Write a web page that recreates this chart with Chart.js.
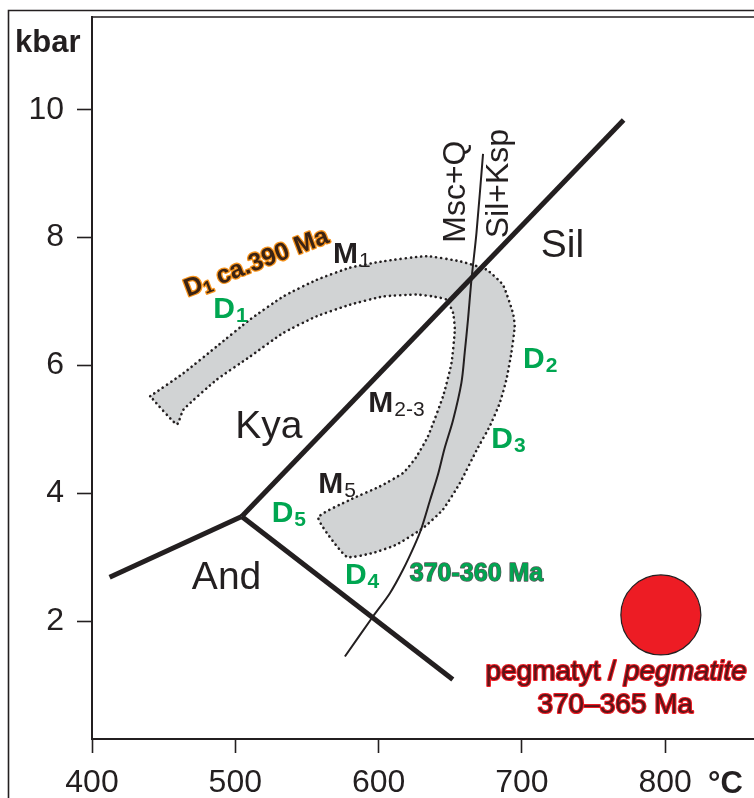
<!DOCTYPE html>
<html>
<head>
<meta charset="utf-8">
<script src="https://cdn.jsdelivr.net/npm/chart.js@4.4.1/dist/chart.umd.min.js"></script>
<style>
  html, body { margin: 0; padding: 0; background: #fff; }
</style>
</head>
<body>
<canvas id="pt" width="754" height="798"></canvas>
<script>
// temperature in °C, pressure in kbar
var xTicks = [400, 500, 600, 700, 800];
var yTicks = [2, 4, 6, 8, 10];

// Al2SiO5 reaction lines
var kyaSil = [[504.5, 3.64], [771, 9.84]];
var kyaAnd = [[412.3, 2.69], [504.5, 3.64]];
var andSil = [[504.5, 3.64], [651.8, 1.09]];

// Msc+Q = Sil+Ksp
var mscQ = [[576.5, 1.45], [596.2, 2.08], [607.9, 2.44], [617.1, 2.81], [625.3, 3.2], [630, 3.46],
  [636, 3.9], [641.5, 4.3], [646, 4.7], [652, 5.15], [657.8, 5.73], [660.1, 6.2], [662.4, 6.72],
  [664.8, 7.34], [668.3, 8.07], [672.9, 9.31]];

// P-T path (outer edge, D4 end, inner edge, D1 end)
var band = [[440.6, 5.52], [463.8, 5.88], [487.1, 6.30], [510.3, 6.72], [533.5, 7.08], [556.8, 7.34],
  [580.0, 7.53], [603.2, 7.63], [633.4, 7.71], [656.7, 7.63], [675.3, 7.50], [686.8, 7.26],
  [693.8, 6.82], [695.0, 6.61], [692.7, 6.20], [689.2, 5.78], [684.5, 5.41], [677.6, 5.05],
  [668.5, 4.68], [656.7, 4.16], [645.0, 3.75], [631.1, 3.46], [612.5, 3.20], [596.2, 3.07],
  [577.7, 3.01], [557.9, 3.62], [580.0, 3.90], [600.9, 4.11], [617.1, 4.32], [626.0, 4.56],
  [634.4, 4.89], [645.0, 5.52], [650.9, 6.04], [653.2, 6.56], [652.0, 6.82], [647.4, 7.03],
  [638.0, 7.08], [626.5, 7.11], [603.2, 7.08], [580.0, 6.95], [556.8, 6.77], [533.5, 6.51],
  [510.3, 6.14], [487.1, 5.78], [463.8, 5.31], [459.2, 5.08], [440.6, 5.52]];

var pegmatite = [[797, 2.1]];

var FONT = '"Liberation Sans", Arial, sans-serif';
var INK = '#231f20';
var GREEN = '#00a651';

function pts(a) { return a.map(function (p) { return { x: p[0], y: p[1] }; }); }

function reaction(a, w) {
  return { type: 'line', data: pts(a), borderColor: INK, borderWidth: w, pointRadius: 0,
    fill: false, tension: 0, borderCapStyle: 'butt', borderJoinStyle: 'miter', order: 1 };
}

// label anchors (left / baseline, in T and P)
var plainNotes = [
  { s: 'Sil', t: 713.2, p: 7.70 },
  { s: 'Kya', t: 499.9, p: 4.87 },
  { s: 'And', t: 469.7, p: 2.50 }
];
var upNotes = [
  { s: 'Msc+Q', t: 660.2, p: 7.92 },
  { s: 'Sil+Ksp', t: 690.1, p: 7.99 }
];
var subNotes = [
  { m: 'M', s: '1', t: 568.2, p: 7.61, c: INK },
  { m: 'M', s: '2-3', t: 592.8, p: 5.28, c: INK },
  { m: 'M', s: '5', t: 557.9, p: 4.01, c: INK },
  { m: 'D', s: '1', t: 484.7, p: 6.74, c: GREEN },
  { m: 'D', s: '2', t: 700.8, p: 5.96, c: GREEN },
  { m: 'D', s: '3', t: 678.7, p: 4.71, c: GREEN },
  { m: 'D', s: '4', t: 576.5, p: 2.59, c: GREEN },
  { m: 'D', s: '5', t: 525.4, p: 3.55, c: GREEN }
];

function put(ctx, s, x, y, font, fill, stroke, sw, align) {
  ctx.font = font;
  ctx.textAlign = align || 'left';
  ctx.textBaseline = 'alphabetic';
  if (stroke) {
    ctx.lineWidth = sw;
    ctx.strokeStyle = stroke;
    ctx.lineJoin = 'round';
    ctx.strokeText(s, x, y);
  }
  ctx.fillStyle = fill;
  ctx.fillText(s, x, y);
  return ctx.measureText(s).width;
}

var notes = {
  id: 'notes',
  afterDraw: function (chart) {
    var ctx = chart.ctx, a = chart.chartArea, X = chart.scales.x, Y = chart.scales.y;
    ctx.save();

    // frames
    ctx.strokeStyle = INK;
    ctx.lineWidth = 1.6;
    ctx.beginPath();
    ctx.moveTo(8.5, 798); ctx.lineTo(8.5, 10.5); ctx.lineTo(754, 10.5);
    ctx.moveTo(a.left, a.top); ctx.lineTo(754, a.top);
    ctx.stroke();

    // axis units
    put(ctx, 'kbar', 15, 52, 'bold 31px ' + FONT, INK);
    put(ctx, '°C', 708, 793, 'bold 31px ' + FONT, INK);

    plainNotes.forEach(function (n) {
      put(ctx, n.s, X.getPixelForValue(n.t), Y.getPixelForValue(n.p), '39px ' + FONT, INK);
    });

    upNotes.forEach(function (n) {
      ctx.save();
      ctx.translate(X.getPixelForValue(n.t), Y.getPixelForValue(n.p));
      ctx.rotate(-Math.PI / 2);
      put(ctx, n.s, 0, 0, '32px ' + FONT, INK);
      ctx.restore();
    });

    subNotes.forEach(function (n) {
      var px = X.getPixelForValue(n.t), py = Y.getPixelForValue(n.p);
      var w = put(ctx, n.m, px, py, 'bold 30px ' + FONT, n.c);
      put(ctx, n.s, px + w + 1, py + 4, (n.c === GREEN ? 'bold ' : '') + '21px ' + FONT, n.c);
    });

    // D1 age, along the upper edge of the path
    ctx.save();
    ctx.translate(X.getPixelForValue(514.5), Y.getPixelForValue(7.62));
    ctx.rotate(-21 * Math.PI / 180);
    ctx.font = 'bold 25px ' + FONT;
    var wD = ctx.measureText('D').width;
    ctx.font = 'bold 17px ' + FONT;
    var w1 = ctx.measureText('1').width;
    ctx.font = 'bold 25px ' + FONT;
    var wR = ctx.measureText(' ca.390 Ma').width;
    var x0 = -(wD + w1 + wR) / 2;
    put(ctx, 'D', x0, 8, 'bold 25px ' + FONT, '#3b2314', '#f7941d', 2.6);
    put(ctx, '1', x0 + wD, 12, 'bold 17px ' + FONT, '#3b2314', '#f7941d', 2.6);
    put(ctx, ' ca.390 Ma', x0 + wD + w1, 8, 'bold 25px ' + FONT, '#3b2314', '#f7941d', 2.6);
    ctx.restore();

    // age of D2-D5
    put(ctx, '370-360 Ma', X.getPixelForValue(621.8), Y.getPixelForValue(2.63), 'bold 25px ' + FONT, GREEN, '#58595b', 1.4);

    // pegmatite caption
    var cx = X.getPixelForValue(765.8), by = Y.getPixelForValue(1.08);
    ctx.font = '28px ' + FONT;
    var wa = ctx.measureText('pegmatyt / ').width;
    ctx.font = 'italic 28px ' + FONT;
    var wb = ctx.measureText('pegmatite').width;
    var sx = cx - (wa + wb) / 2;
    put(ctx, 'pegmatyt / ', sx, by, '28px ' + FONT, '#5a1518', '#ed1c24', 2.2);
    put(ctx, 'pegmatite', sx + wa, by, 'italic 28px ' + FONT, '#5a1518', '#ed1c24', 2.2);
    put(ctx, '370–365 Ma', X.getPixelForValue(765.2), Y.getPixelForValue(0.56), '28px ' + FONT, '#5a1518', '#ed1c24', 2.2, 'center');

    ctx.restore();
  }
};

new Chart(document.getElementById('pt'), {
  type: 'scatter',
  data: {
    datasets: [
      { type: 'scatter', data: pts(pegmatite), pointRadius: 40, pointBackgroundColor: '#ed1c24',
        pointBorderColor: INK, pointBorderWidth: 1.2, order: 0 },
      reaction(kyaSil, 5),
      reaction(kyaAnd, 5),
      reaction(andSil, 5),
      { type: 'line', data: pts(mscQ), borderColor: INK, borderWidth: 2, pointRadius: 0,
        fill: false, tension: 0.3, order: 2 },
      { type: 'line', data: pts(band), borderColor: INK, borderWidth: 2.6, borderDash: [0.1, 5],
        borderCapStyle: 'round', backgroundColor: '#d1d3d4', fill: 'shape', pointRadius: 0,
        tension: 0.15, order: 3 }
    ]
  },
  options: {
    responsive: false,
    animation: false,
    events: [],
    layout: { autoPadding: false, padding: { top: 17, left: 0, right: 0, bottom: 0 } },
    plugins: { legend: { display: false }, tooltip: { enabled: false } },
    scales: {
      x: {
        type: 'linear', min: 400, max: 862,
        afterBuildTicks: function (s) { s.ticks = xTicks.map(function (v) { return { value: v }; }); },
        afterFit: function (s) { s.height = 59; s.paddingLeft = 0; s.paddingRight = 0; },
        grid: { drawOnChartArea: false, drawTicks: true, tickLength: 14, tickWidth: 1.6, tickColor: INK },
        border: { display: true, color: INK, width: 2 },
        ticks: { font: { family: FONT, size: 32 }, color: INK, padding: 11, maxRotation: 0, autoSkip: false }
      },
      y: {
        type: 'linear', min: 0.16, max: 11.45,
        afterBuildTicks: function (s) { s.ticks = yTicks.map(function (v) { return { value: v }; }); },
        afterFit: function (s) { s.width = 92; s.paddingTop = 0; s.paddingBottom = 0; },
        grid: { drawOnChartArea: false, drawTicks: true, tickLength: 15, tickWidth: 1.6, tickColor: INK },
        border: { display: true, color: INK, width: 2 },
        ticks: { font: { family: FONT, size: 32 }, color: INK, padding: 13, autoSkip: false }
      }
    }
  },
  plugins: [notes]
});
</script>
</body>
</html>
